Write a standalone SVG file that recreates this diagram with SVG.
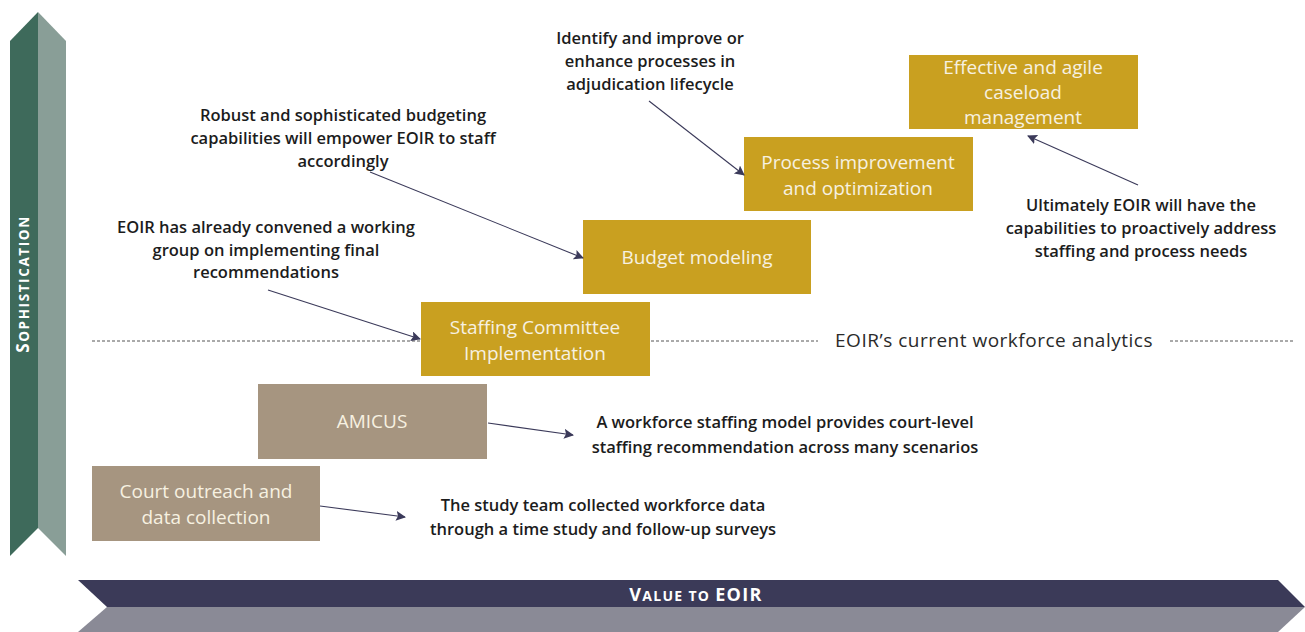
<svg xmlns="http://www.w3.org/2000/svg" width="1305" height="632" viewBox="0 0 1305 632">
  <style>
    .gold { fill: #c9a020; }
    .tan { fill: #a69580; }
    .boxtxt { font-family: "Open Sans", "Liberation Sans", sans-serif; font-size: 19px; fill: #f7f1e1; text-anchor: middle; }
    .note { font-family: "Open Sans", "Liberation Sans", sans-serif; font-size: 16.5px; font-weight: 600; fill: #1c1c1c; text-anchor: middle; }
    .conn { stroke: #3b3a5a; stroke-width: 1.1; fill: none; marker-end: url(#arrow); }
    .dash { stroke: #555; stroke-width: 1; stroke-dasharray: 3 2; }
    .axis { font-family: "Open Sans", "Liberation Sans", sans-serif; font-weight: 700; fill: #ffffff; }
  </style>
  <defs>
    <marker id="arrow" viewBox="0 0 10 10" refX="9" refY="5" markerWidth="10" markerHeight="10" markerUnits="userSpaceOnUse" orient="auto">
      <path d="M0,0 L10,5 L0,10 L2,5 Z" fill="#3b3a5a"/>
    </marker>
  </defs>

  <rect width="1305" height="632" fill="#ffffff"/>

  <!-- vertical axis: sophistication -->
  <g id="axis-sophistication">
    <path d="M10,41 L38,12 L38,528 L10,556 Z" fill="#3e6a5b"/>
    <path d="M38,12 L66,41 L66,556 L38,528 Z" fill="#899e97"/>
    <text class="axis" transform="translate(29,284) rotate(-90)" text-anchor="middle" letter-spacing="1.6"><tspan font-size="17">S</tspan><tspan font-size="13.5">OPHISTICATION</tspan></text>
  </g>

  <!-- horizontal axis: value to EOIR -->
  <g id="axis-value">
    <path d="M78,580 L1278,580 L1305,607 L107,607 Z" fill="#3b3a58"/>
    <path d="M107,607 L1305,607 L1278,632 L78,632 Z" fill="#8a8a96"/>
    <text class="axis" x="696" y="601" text-anchor="middle" letter-spacing="1.3"><tspan font-size="18">V</tspan><tspan font-size="14">ALUE TO </tspan><tspan font-size="18">EOIR</tspan></text>
  </g>

  <!-- current analytics threshold -->
  <g id="threshold">
    <line class="dash" x1="92" y1="341" x2="420" y2="341"/>
    <line class="dash" x1="651" y1="341" x2="818" y2="341"/>
    <line class="dash" x1="1170" y1="341" x2="1295" y2="341"/>
    <text x="994" y="347" font-family="Open Sans, Liberation Sans, sans-serif" font-size="19" letter-spacing="0.5" fill="#2a2a2a" text-anchor="middle">EOIR’s current workforce analytics</text>
  </g>

  <!-- stages -->
  <g id="court-outreach">
    <rect class="tan" x="92" y="466" width="228" height="75"/>
    <text class="boxtxt" x="206" y="498">Court outreach and</text>
    <text class="boxtxt" x="206" y="524">data collection</text>
  </g>
  <g id="amicus">
    <rect class="tan" x="258" y="384" width="229" height="75"/>
    <text class="boxtxt" x="372" y="428">AMICUS</text>
  </g>
  <g id="staffing-committee">
    <rect class="gold" x="421" y="302" width="229" height="74"/>
    <text class="boxtxt" x="535" y="334">Staffing Committee</text>
    <text class="boxtxt" x="535" y="360">Implementation</text>
  </g>
  <g id="budget-modeling">
    <rect class="gold" x="583" y="220" width="228" height="74"/>
    <text class="boxtxt" x="697" y="264">Budget modeling</text>
  </g>
  <g id="process-improvement">
    <rect class="gold" x="744" y="137" width="229" height="74"/>
    <text class="boxtxt" x="858" y="169">Process improvement</text>
    <text class="boxtxt" x="858" y="195">and optimization</text>
  </g>
  <g id="caseload-management">
    <rect class="gold" x="909" y="55" width="229" height="74"/>
    <text class="boxtxt" x="1023" y="74">Effective and agile</text>
    <text class="boxtxt" x="1023" y="99">caseload</text>
    <text class="boxtxt" x="1023" y="124">management</text>
  </g>

  <!-- notes -->
  <g id="note-process">
    <text class="note" x="650" y="44">Identify and improve or</text>
    <text class="note" x="650" y="67">enhance processes in</text>
    <text class="note" x="650" y="90">adjudication lifecycle</text>
  </g>
  <g id="note-budget">
    <text class="note" x="343" y="121">Robust and sophisticated budgeting</text>
    <text class="note" x="343" y="144">capabilities will empower EOIR to staff</text>
    <text class="note" x="343" y="167">accordingly</text>
  </g>
  <g id="note-staffing">
    <text class="note" x="266" y="233">EOIR has already convened a working</text>
    <text class="note" x="266" y="256">group on implementing final</text>
    <text class="note" x="266" y="278">recommendations</text>
  </g>
  <g id="note-caseload">
    <text class="note" x="1141" y="211">Ultimately EOIR will have the</text>
    <text class="note" x="1141" y="234">capabilities to proactively address</text>
    <text class="note" x="1141" y="257">staffing and process needs</text>
  </g>
  <g id="note-amicus">
    <text class="note" x="785" y="428">A workforce staffing model provides court-level</text>
    <text class="note" x="785" y="453">staffing recommendation across many scenarios</text>
  </g>
  <g id="note-outreach">
    <text class="note" x="603" y="511">The study team collected workforce data</text>
    <text class="note" x="603" y="535">through a time study and follow-up surveys</text>
  </g>

  <!-- connectors -->
  <g id="connectors">
    <line class="conn" x1="649" y1="101" x2="744" y2="175"/>
    <line class="conn" x1="370" y1="172" x2="583" y2="258"/>
    <line class="conn" x1="268" y1="290" x2="420" y2="339"/>
    <line class="conn" x1="1138" y1="185" x2="1028" y2="136"/>
    <line class="conn" x1="488" y1="423" x2="573" y2="435"/>
    <line class="conn" x1="320" y1="506" x2="405" y2="517"/>
  </g>
</svg>
